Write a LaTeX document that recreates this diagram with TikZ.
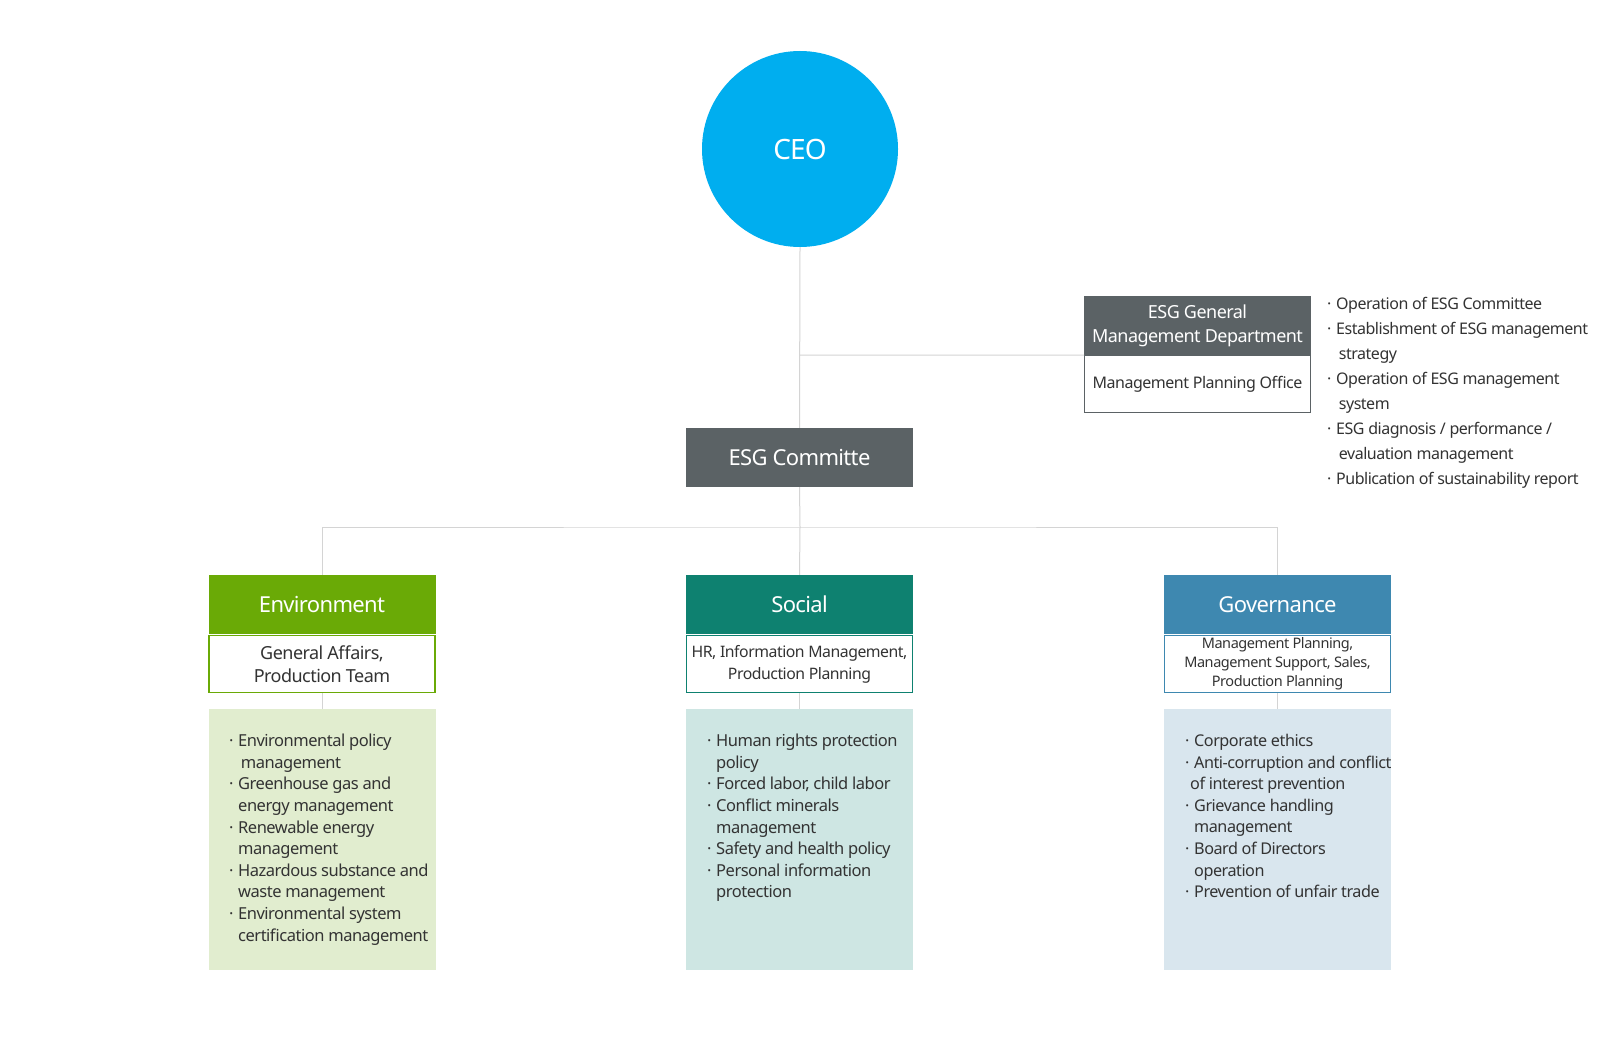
\documentclass[tikz,border=0pt]{standalone}
\usepackage{fontspec}
\setmainfont{Noto Sans}[LetterSpace=-3]
\definecolor{ceoc}{HTML}{00AEEF}
\definecolor{darkg}{HTML}{5B6265}
\definecolor{envc}{HTML}{6AAA06}
\definecolor{socc}{HTML}{0E8170}
\definecolor{govc}{HTML}{3E88B0}
\definecolor{envl}{HTML}{E1EDCF}
\definecolor{socl}{HTML}{CEE6E3}
\definecolor{govl}{HTML}{D9E6EE}
\definecolor{linec}{HTML}{D4D4D4}
\definecolor{txt}{HTML}{333333}
\newcommand\bul{\makebox[9pt][l]{·}}
\newcommand\cnt{\hspace*{9pt}}
\tikzset{
  conn/.style={draw=linec, line width=1pt},
  head/.style={fill=#1, text=white, minimum width=227pt, minimum height=59pt, inner sep=0pt, font=\fontsize{22}{24}\selectfont, align=center},
  body/.style={draw=#1, fill=white, line width=1.2pt, minimum width=226pt, minimum height=57pt, inner sep=0pt, text=txt, align=center},
  list/.style={fill=#1, minimum width=227pt, minimum height=261pt, inner sep=0pt},
  ltext/.style={anchor=north west, inner sep=0pt, text=txt, align=left, font=\fontsize{16.5}{21.6}\selectfont},
}
\begin{document}
\begin{tikzpicture}[x=1pt,y=-1pt]
\useasboundingbox[fill=white] (0,0) rectangle (1600,1048);
\coordinate (j1) at (800,355);
\coordinate (bus) at (800,527);
\node[circle, fill=ceoc, minimum size=196pt, inner sep=0pt, text=white, font=\fontsize{28}{30}\selectfont] (ceo) at (800,149) {\raisebox{-2pt}{CEO}};
\node[head=darkg] (com) at (799.5,457.5) {ESG Committe};
\node[head=darkg, font=\fontsize{18}{24}\selectfont] (depth) at (1197.5,325.5) {\raisebox{-2pt}{\begin{tabular}{@{}c@{}}ESG General\\Management Department\end{tabular}}};
\node[body=darkg, line width=0.8pt, font=\fontsize{16}{20}\selectfont] (deptb) at (1197.5,384) {\raisebox{-2pt}{Management Planning Office}};
\draw[conn] (ceo.south) -- (com.north);
\draw[conn] (j1) -- (deptb.north west);
% categories
\node[head=envc] (envh) at (322,604.5) {Environment};
\node[body=envc, font=\fontsize{18}{23.5}\selectfont] (envb) at (322,664) {General Affairs,\\Production Team};
\node[list=envl] (envl) at (322,839.5) {};
\node[head=socc] (soch) at (799.5,604.5) {Social};
\node[body=socc, font=\fontsize{15.8}{22}\selectfont] (socb) at (799.5,664) {HR, Information Management,\\Production Planning};
\node[list=socl] (socl) at (799.5,839.5) {};
\node[head=govc] (govh) at (1277.5,604.5) {Governance};
\node[body=govc, font=\fontsize{14.5}{19}\selectfont] (govb) at (1277.5,664) {Management Planning,\\Management Support, Sales,\\Production Planning};
\node[list=govl] (govl) at (1277.5,839.5) {};
\draw[conn] (com.south) -- (bus);
\draw[conn] (envh.north) |- (bus) -| (govh.north);
\draw[conn] (bus) -- (soch.north);
\draw[conn] (envb.south) -- (envl.north);
\draw[conn] (socb.south) -- (socl.north);
\draw[conn] (govb.south) -- (govl.north);
% lists
\node[ltext] (envt) at (229,734) {\bul Environmental policy\\\cnt\,management\\\bul Greenhouse gas and\\\cnt energy management\\\bul Renewable energy\\\cnt management\\\bul Hazardous substance and\\\cnt waste management\\\bul Environmental system\\\cnt certification management};
\node[ltext] (soct) at (707,734) {\bul Human rights protection\\\cnt policy\\\bul Forced labor, child labor\\\bul Conflict minerals\\\cnt management\\\bul Safety and health policy\\\bul Personal information\\\cnt protection};
\node[ltext, font=\fontsize{16.2}{21.6}\selectfont] (govt) at (1185,734) {\bul Corporate ethics\\\bul Anti-corruption and conflict\\\hspace*{5pt}of interest prevention\\\bul Grievance handling\\\cnt management\\\bul Board of Directors\\\cnt operation\\\bul Prevention of unfair trade};
\node[ltext, font=\fontsize{16}{25}\selectfont] (deptt) at (1327,297) {\bul Operation of ESG Committee\\\bul Establishment of ESG management\\\cnt\,strategy\\\bul Operation of ESG management\\\cnt\,system\\\bul ESG diagnosis / performance /\\\cnt\,evaluation management\\\bul Publication of sustainability report};
\end{tikzpicture}
\end{document}
